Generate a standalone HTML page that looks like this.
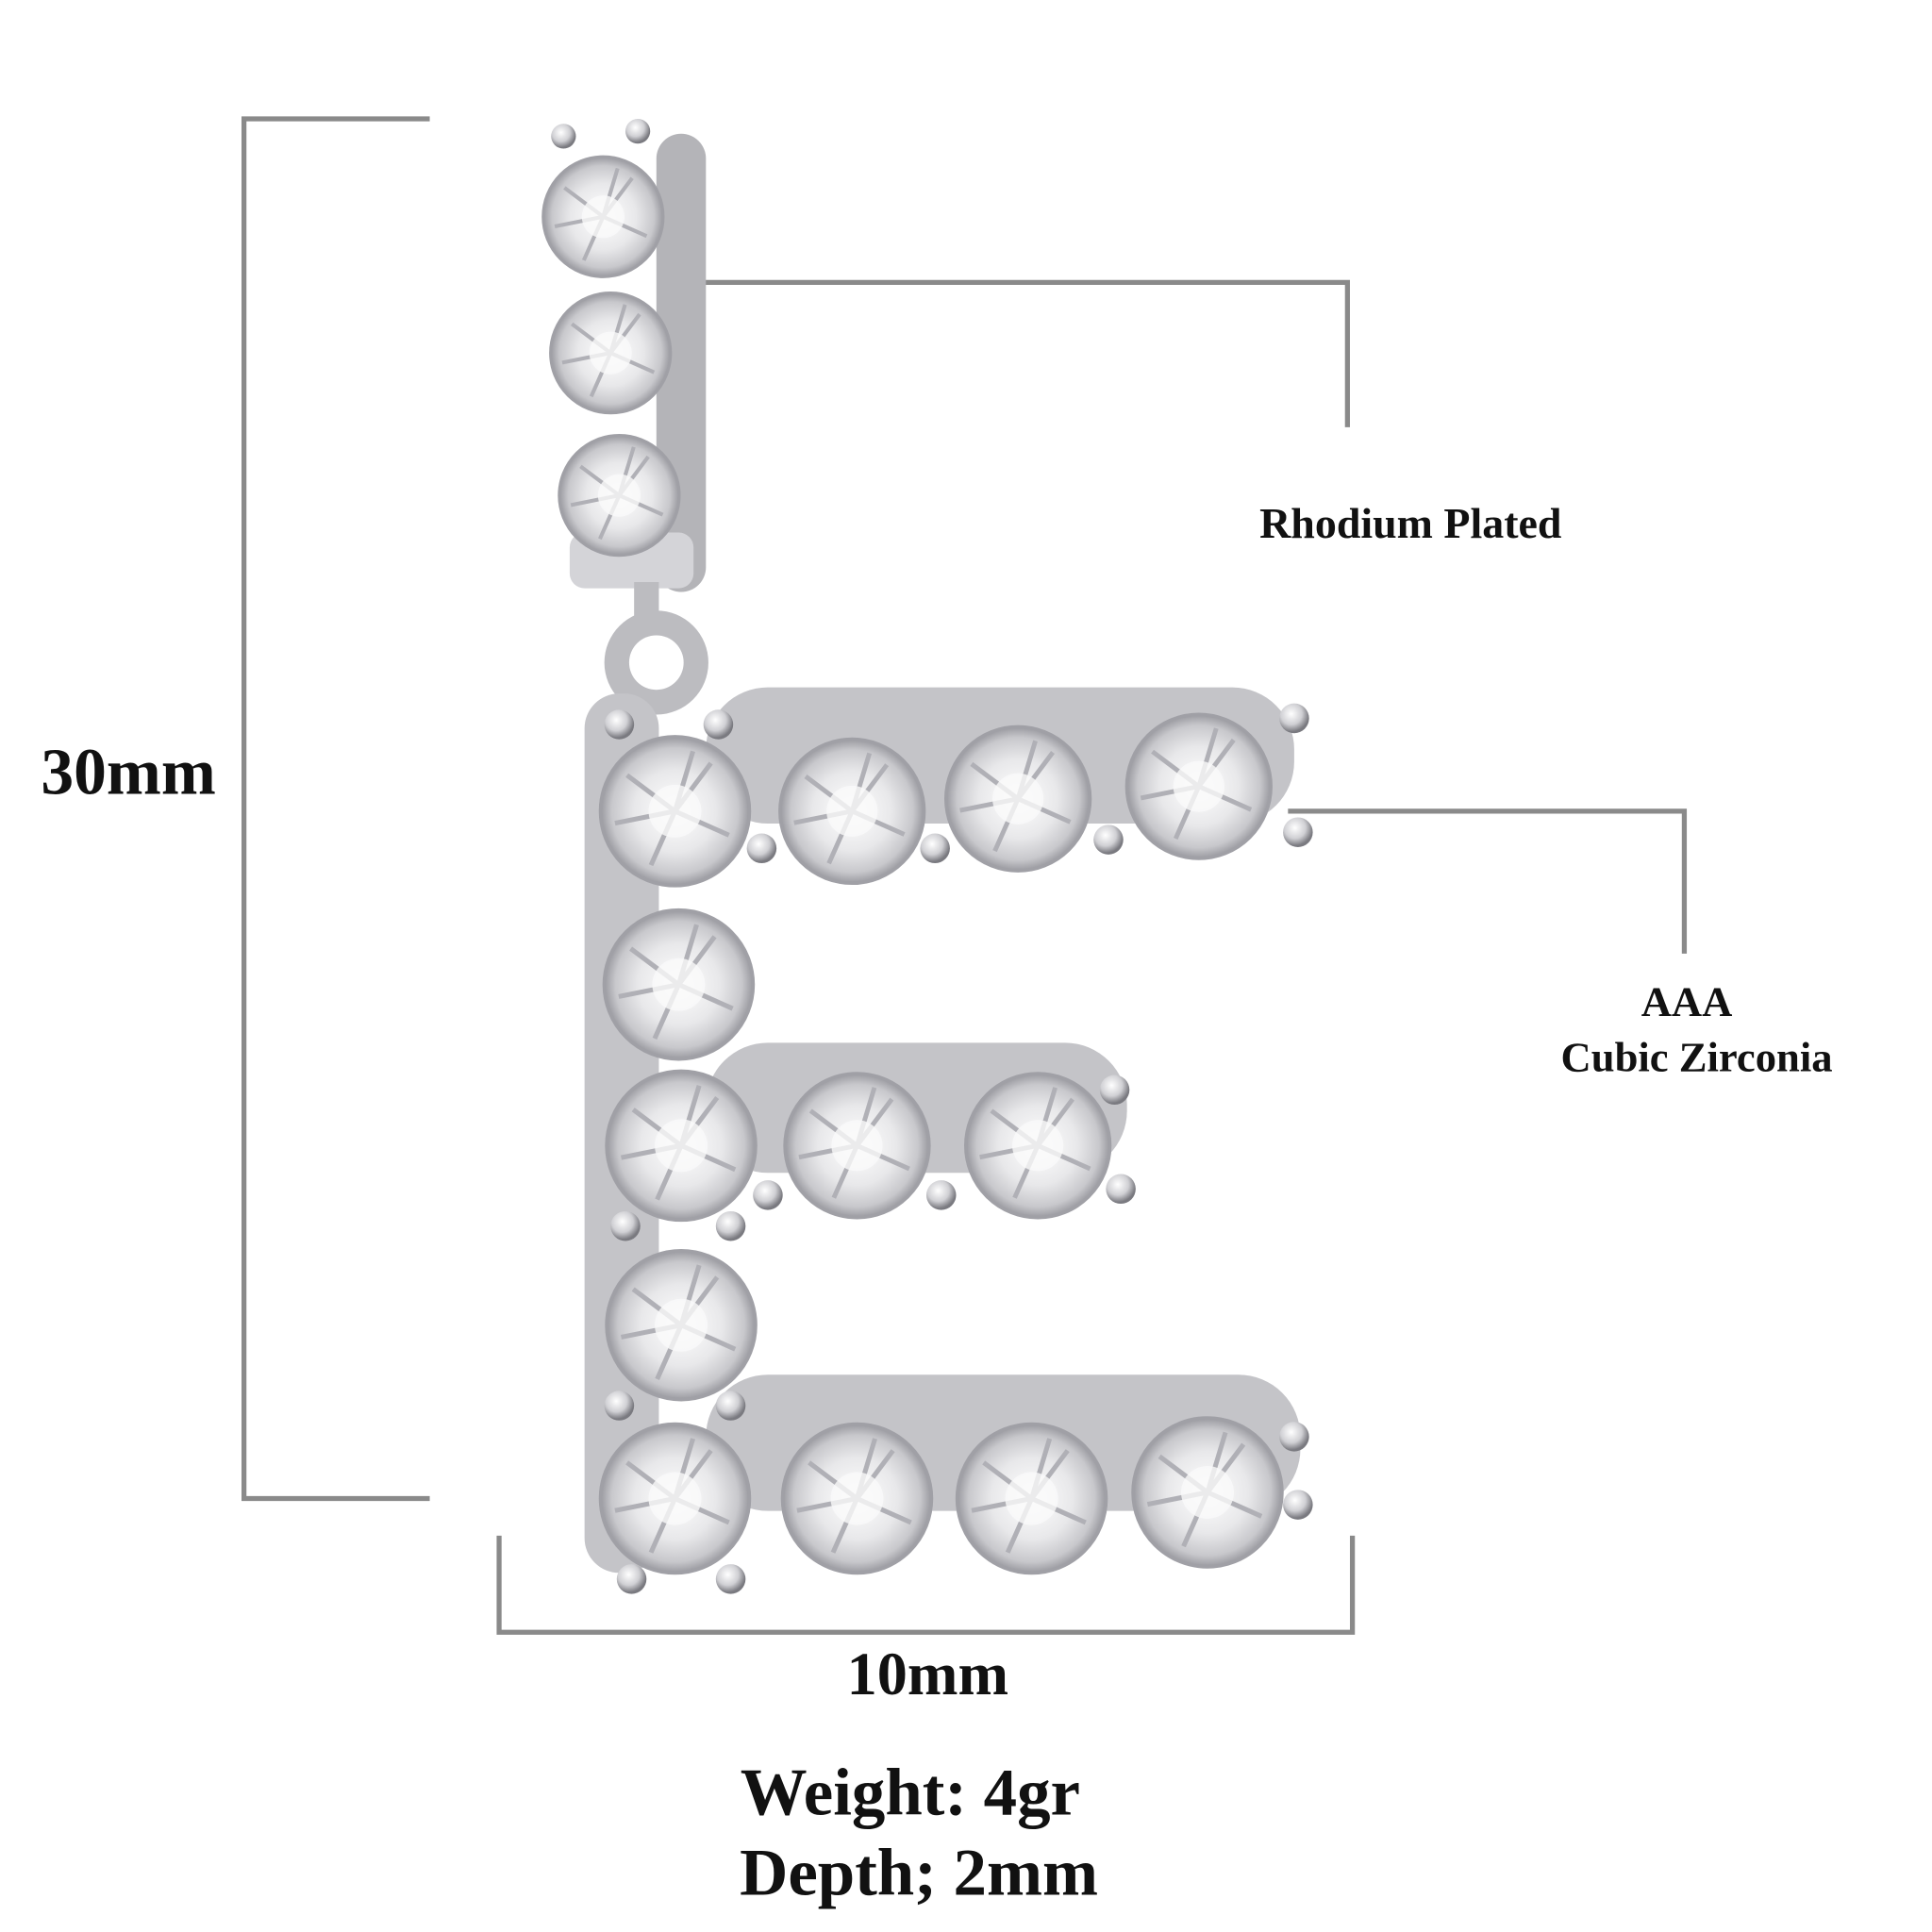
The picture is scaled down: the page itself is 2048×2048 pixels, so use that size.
<!DOCTYPE html>
<html><head><meta charset="utf-8"><style>
html,body{margin:0;padding:0;background:#fff}
svg{display:block}
text{font-family:"Liberation Serif",serif;font-weight:bold;fill:#111}
</style></head><body>
<svg width="2048" height="2048" viewBox="0 0 1560 1560" xmlns="http://www.w3.org/2000/svg">
<defs>
<radialGradient id="g" cx="50%" cy="50%" r="50%">
<stop offset="0" stop-color="#ffffff"/>
<stop offset="0.55" stop-color="#e8e8ea"/>
<stop offset="0.85" stop-color="#c8c8cc"/>
<stop offset="1" stop-color="#9a9aa0"/>
</radialGradient>
<radialGradient id="p" cx="40%" cy="35%" r="60%">
<stop offset="0" stop-color="#fff"/>
<stop offset="0.6" stop-color="#d0d0d4"/>
<stop offset="1" stop-color="#7a7a80"/>
</radialGradient>
<symbol id="gem" viewBox="-64 -64 128 128">
<circle r="62" fill="url(#g)" stroke="#a0a0a6" stroke-width="3"/>
<path d="M0 0 L-40 -30 M0 0 L30 -40 M0 0 L45 20 M0 0 L-20 45 M0 0 L-50 10 M0 0 L15 -50" stroke="#b0b0b6" stroke-width="4"/>
<circle r="22" fill="#fafafa" opacity="0.8"/>
</symbol>
</defs>
<g fill="none" stroke="#8a8a8a" stroke-width="4">
<polyline points="347,96 197,96 197,1210 347,1210"/>
<polyline points="403,1240 403,1318 1092,1318 1092,1240"/>
<polyline points="548,228 1088,228 1088,345"/>
<polyline points="1040,655 1360,655 1360,770"/>
</g>
<g fill="#c4c4c8">
<rect x="530" y="108" width="40" height="370" rx="20" fill="#b4b4b8"/>
<rect x="460" y="430" width="100" height="45" rx="12" fill="#d4d4d8"/>
<rect x="512" y="470" width="20" height="40" fill="#bcbcc0"/>
<circle cx="530" cy="535" r="42" fill="#bcbcc0"/>
<circle cx="530" cy="535" r="22" fill="#fff"/>
<rect x="472" y="560" width="60" height="710" rx="28"/>
<rect x="570" y="555" width="475" height="110" rx="50"/>
<rect x="570" y="842" width="340" height="105" rx="50"/>
<rect x="570" y="1110" width="480" height="110" rx="50"/>
</g>
<g fill="url(#p)">
<circle cx="455" cy="110" r="10"/><circle cx="515" cy="106" r="10"/>
<circle cx="580" cy="585" r="12"/><circle cx="500" cy="585" r="12"/><circle cx="1045" cy="580" r="12"/><circle cx="1048" cy="672" r="12"/>
<circle cx="615" cy="685" r="12"/><circle cx="755" cy="685" r="12"/><circle cx="895" cy="678" r="12"/>
<circle cx="900" cy="880" r="12"/><circle cx="905" cy="960" r="12"/><circle cx="760" cy="965" r="12"/><circle cx="620" cy="965" r="12"/>
<circle cx="1045" cy="1160" r="12"/><circle cx="1048" cy="1215" r="12"/><circle cx="510" cy="1275" r="12"/><circle cx="590" cy="1275" r="12"/>
<circle cx="500" cy="1135" r="12"/><circle cx="590" cy="1135" r="12"/><circle cx="505" cy="990" r="12"/><circle cx="590" cy="990" r="12"/>
</g>
<use href="#gem" x="437" y="125" width="100" height="100"/>
<use href="#gem" x="443" y="235" width="100" height="100"/>
<use href="#gem" x="450" y="350" width="100" height="100"/>
<use href="#gem" x="483" y="593" width="124" height="124"/>
<use href="#gem" x="628" y="595" width="120" height="120"/>
<use href="#gem" x="762" y="585" width="120" height="120"/>
<use href="#gem" x="908" y="575" width="120" height="120"/>
<use href="#gem" x="486" y="733" width="124" height="124"/>
<use href="#gem" x="488" y="863" width="124" height="124"/>
<use href="#gem" x="632" y="865" width="120" height="120"/>
<use href="#gem" x="778" y="865" width="120" height="120"/>
<use href="#gem" x="488" y="1008" width="124" height="124"/>
<use href="#gem" x="483" y="1148" width="124" height="124"/>
<use href="#gem" x="630" y="1148" width="124" height="124"/>
<use href="#gem" x="771" y="1148" width="124" height="124"/>
<use href="#gem" x="913" y="1143" width="124" height="124"/>
<text x="33" y="641" font-size="53">30mm</text>
<text x="1017" y="434" font-size="35">Rhodium Plated</text>
<text x="1362" y="820" font-size="34" text-anchor="middle">AAA</text>
<text x="1370" y="865" font-size="34" text-anchor="middle">Cubic Zirconia</text>
<text x="749" y="1368" font-size="49" text-anchor="middle">10mm</text>
<text x="735" y="1465" font-size="54" text-anchor="middle">Weight: 4gr</text>
<text x="742" y="1530" font-size="54" text-anchor="middle">Depth; 2mm</text>
</svg>
</body></html>
